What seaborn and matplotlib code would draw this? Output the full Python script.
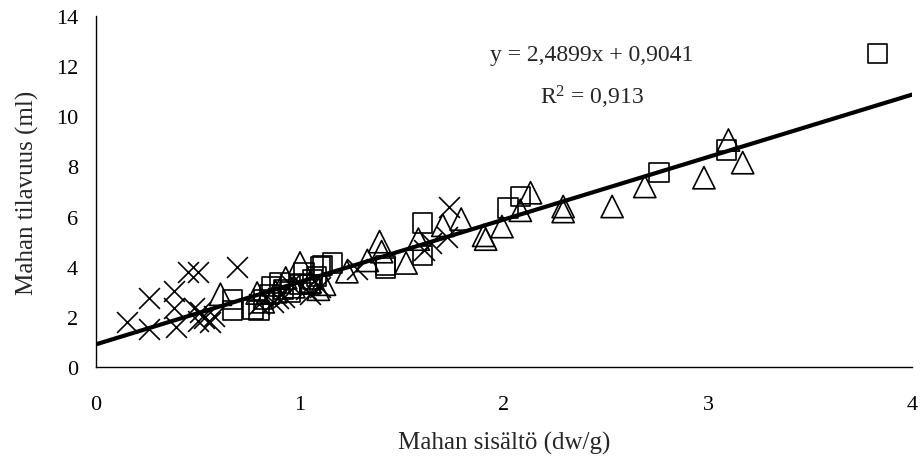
import numpy as np
import pandas as pd
import matplotlib
matplotlib.use("Agg")
import matplotlib.pyplot as plt
import seaborn as sns

# Stomach content (dw/g) vs. stomach volume (ml), three sample groups
cross_x = [0.15, 0.26, 0.26, 0.38, 0.38, 0.39, 0.45, 0.50, 0.48, 0.50, 0.51, 0.53,
           0.56, 0.58, 0.69, 0.80, 0.87, 0.89, 0.92, 0.95, 1.03, 1.05, 1.10, 1.28,
           1.61, 1.64, 1.72, 1.73]
cross_y = [1.80, 1.50, 2.75, 3.05, 2.35, 1.60, 3.80, 3.80, 2.35, 1.85, 2.20, 1.95,
           1.80, 2.05, 4.00, 2.50, 2.60, 2.75, 2.80, 3.30, 3.10, 2.90, 3.20, 3.90,
           4.65, 4.95, 5.20, 6.40]

square_x = [0.67, 0.67, 0.77, 0.80, 0.82, 0.85, 0.86, 0.90, 0.92, 0.95, 1.00, 1.02,
            1.05, 1.06, 1.08, 1.10, 1.11, 1.16, 1.42, 1.42, 1.60, 1.60, 2.02, 2.08,
            2.76, 3.09, 3.83]
square_y = [2.70, 2.25, 2.30, 2.25, 2.70, 2.90, 3.20, 3.35, 3.10, 3.00, 3.30, 3.75,
            3.30, 3.50, 3.60, 4.00, 4.05, 4.15, 4.05, 3.95, 4.45, 5.75, 6.35, 6.80,
            7.75, 8.65, 12.50]

tri_x = [0.61, 0.79, 0.82, 0.88, 0.93, 0.97, 1.00, 1.05, 1.09, 1.12, 1.23, 1.33,
         1.39, 1.40, 1.52, 1.58, 1.70, 1.79, 1.90, 1.91, 1.99, 2.08, 2.13, 2.29,
         2.29, 2.53, 2.69, 2.98, 3.10, 3.17]
tri_y = [2.90, 2.95, 2.60, 3.00, 3.55, 3.20, 4.15, 3.40, 3.10, 3.30, 3.80, 4.25,
         5.00, 4.60, 4.15, 5.10, 5.65, 5.90, 5.25, 5.10, 5.60, 6.25, 6.95, 6.40,
         6.20, 6.40, 7.20, 7.55, 9.05, 8.15]

# Linear trend line
slope = 2.4899
intercept = 0.9041
r_squared = 0.913

x_ticks = [0, 1, 2, 3, 4]
y_ticks = [0, 2, 4, 6, 8, 10, 12, 14]
x_label = "Mahan sisältö (dw/g)"
y_label = "Mahan tilavuus (ml)"

sns.set_style("white")
plt.rcParams["font.family"] = ["Liberation Serif", "DejaVu Serif"]
plt.rcParams["mathtext.fontset"] = "custom"
plt.rcParams["mathtext.rm"] = "Liberation Serif"
plt.rcParams["mathtext.it"] = "Liberation Serif:italic"

fig = plt.figure(figsize=(9.22, 4.64), dpi=100)
ax = fig.add_axes([0.1041, 0.2069, 0.8851, 0.7565])

sns.scatterplot(x=cross_x, y=cross_y, marker="x", s=15 ** 2, color="black",
                linewidth=1.2, ax=ax, zorder=3)
sns.scatterplot(x=square_x, y=square_y, marker="s", s=14 ** 2, facecolor="none",
                edgecolor="black", linewidth=1.2, ax=ax, zorder=3)
sns.scatterplot(x=tri_x, y=tri_y, marker="^", s=16 ** 2, facecolor="none",
                edgecolor="black", linewidth=1.2, ax=ax, zorder=3)

fit = pd.DataFrame({"x": np.linspace(x_ticks[0], x_ticks[-1], 2)})
fit["y"] = slope * fit["x"] + intercept
sns.lineplot(data=fit, x="x", y="y", color="black", linewidth=3, ax=ax, zorder=4)

eq = f"y = {slope:.4f}x + {intercept:.4f}".replace(".", ",")
r2 = f"R$^{{2}}$ = {r_squared:.3f}".replace(".", ",")
ax.text(2.43, 12.45, eq, ha="center", va="center", fontsize=17)
ax.text(2.43, 10.8, r2, ha="center", va="center", fontsize=17)

ax.set_xlim(x_ticks[0], x_ticks[-1])
ax.set_ylim(y_ticks[0], y_ticks[-1])
ax.set_xticks(x_ticks)
ax.set_yticks(y_ticks)
ax.set_xlabel(x_label, fontsize=18, labelpad=12)
ax.set_ylabel(y_label, fontsize=18, labelpad=12)
ax.tick_params(axis="both", direction="in", length=5, width=1, labelsize=16,
               color="black", labelcolor="black")
ax.tick_params(axis="x", pad=20)
ax.tick_params(axis="y", pad=13)
for side in ("top", "right"):
    ax.spines[side].set_visible(False)
for side in ("left", "bottom"):
    ax.spines[side].set_color("black")
    ax.spines[side].set_linewidth(1)

fig.savefig("out.png", dpi=100, facecolor="white")
